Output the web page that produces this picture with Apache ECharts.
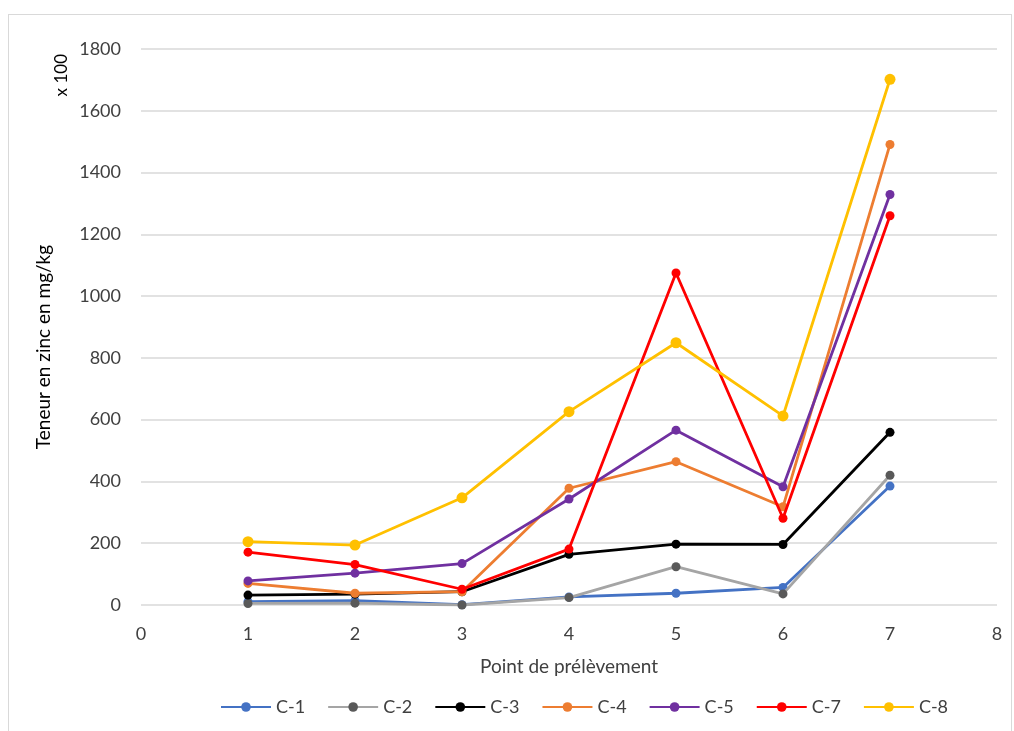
<!DOCTYPE html>
<html lang="fr">
<head>
    <meta charset="UTF-8">
    <title>Teneur en zinc</title>
    <script src="https://cdn.jsdelivr.net/npm/echarts@6/dist/echarts.min.js"></script>
    <style>
        html, body { margin: 0; padding: 0; background: #fff; }
        #frame { position: absolute; left: 8px; top: 14px; width: 1004px; height: 730px; border: 1px solid #d9d9d9; box-sizing: border-box; }
        #chart { position: absolute; left: 0; top: 0; width: 1014px; height: 731px; }
    </style>
</head>
<body>
<div id="frame"></div>
<div id="chart"></div>
<script>
    // points de prélèvement
    var points = [1, 2, 3, 4, 5, 6, 7];

    // valeurs (x 100 mg/kg)
    var c1 = [11, 14, 1, 26, 38, 57, 385];
    var c2 = [5, 6, 0, 24, 124, 36, 420];
    var c3 = [32, 35, 43, 164, 197, 196, 559];
    var c4 = [70, 38, 43, 378, 464, 318, 1491];
    var c5 = [78, 103, 134, 343, 566, 383, 1329];
    var c7 = [171, 131, 51, 181, 1075, 281, 1260];
    var c8 = [205, 194, 347, 626, 849, 612, 1702];

    var names = ['C-1', 'C-2', 'C-3', 'C-4', 'C-5', 'C-7', 'C-8'];
    var values = [c1, c2, c3, c4, c5, c7, c8];
    var lineColors = ['#4472C4', '#A5A5A5', '#000000', '#ED7D31', '#7030A0', '#FF0000', '#FFC000'];
    var markColors = ['#4472C4', '#595959', '#000000', '#ED7D31', '#7030A0', '#FF0000', '#FFC000'];
    var markSizes = [9, 9, 9, 9, 9, 9, 11];

    var font = 'Lato, "Open Sans", sans-serif';

    var series = names.map(function (n, i) {
        return {
            name: n,
            type: 'line',
            data: points.map(function (p, k) { return [p, values[i][k]]; }),
            symbol: 'circle',
            symbolSize: markSizes[i],
            lineStyle: { color: lineColors[i], width: 2.8 },
            itemStyle: { color: markColors[i] },
            emphasis: { disabled: true },
            z: 2 + i
        };
    });

    var option = {
        animation: false,
        textStyle: { fontFamily: font },
        grid: { left: 141, right: 17, top: 49, bottom: 126 },
        xAxis: {
            type: 'value',
            min: 0,
            max: 8,
            interval: 1,
            name: 'Point de prélèvement',
            nameLocation: 'middle',
            nameGap: 52,
            nameTextStyle: { color: '#404040', fontSize: 19, fontFamily: font },
            axisLine: { show: false },
            axisTick: { show: false },
            splitLine: { show: false },
            axisLabel: { color: '#404040', fontSize: 18, margin: 20 }
        },
        yAxis: {
            type: 'value',
            min: 0,
            max: 1800,
            interval: 200,
            name: 'Teneur en zinc en mg/kg',
            nameLocation: 'middle',
            nameGap: 88,
            nameTextStyle: { color: '#000', fontSize: 19, fontFamily: font, padding: [0, 0, 0, -40] },
            axisLine: { show: false },
            axisTick: { show: false },
            splitLine: { lineStyle: { color: '#d9d9d9', width: 1.5 } },
            axisLabel: { color: '#404040', fontSize: 18, margin: 20, formatter: function (v) { return String(v); } }
        },
        legend: {
            bottom: 10,
            left: 215,
            itemWidth: 50,
            itemHeight: 12,
            itemGap: 22,
            textStyle: { color: '#404040', fontSize: 18, fontFamily: font },
            data: names
        },
        graphic: [{
            type: 'text',
            left: 53,
            top: 54,
            rotation: Math.PI / 2,
            style: { text: 'x 100', fill: '#000', font: '17px ' + font }
        }],
        series: series
    };

    var chart = echarts.init(document.getElementById('chart'));
    chart.setOption(option);
</script>
</body>
</html>
